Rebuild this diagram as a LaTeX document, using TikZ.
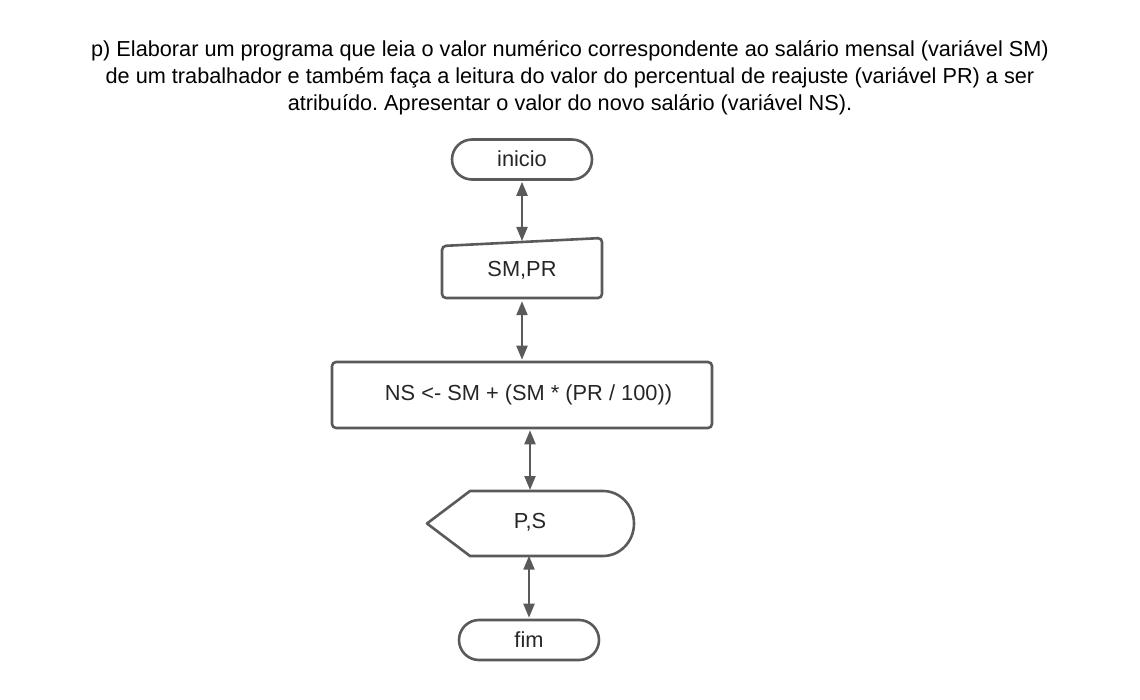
\documentclass[tikz,border=0pt]{standalone}
\usepackage{fontspec}
\setmainfont{Liberation Sans}
\usetikzlibrary{arrows.meta,shapes.misc}
\definecolor{ln}{HTML}{5A5A5A}
\definecolor{tx}{HTML}{262626}
\tikzset{
  nfont/.style={font=\fontsize{21.8}{26}\selectfont},
  shp/.style={draw=ln, line width=2.6pt, text=tx, nfont},
  term/.style={shp, rounded rectangle, minimum height=40pt, inner sep=0pt},
  conn/.style={draw=ln, line width=2.2pt, {Triangle[length=14pt,width=11pt]}-{Triangle[length=14pt,width=11pt]}, shorten <=1pt, shorten >=1pt},
}
\frenchspacing
\begin{document}
\begin{tikzpicture}[x=1pt,y=-1pt]
\useasboundingbox (0,0) rectangle (1140,700);
\node[text=black, align=center, font=\fontsize{21.7}{27}\selectfont] (title) at (570,78)
 {p) Elaborar um programa que leia o valor numérico correspondente ao salário mensal (variável SM)\\
  de um trabalhador e também faça a leitura do valor do percentual de reajuste (variável PR) a ser\\
  atribuído. Apresentar o valor do novo salário (variável NS).};
% inicio
\node[term, minimum width=140pt] (inicio) at (522,159.5) {\raisebox{1.5pt}{inicio}};
% SM,PR manual input
\node[text=tx, nfont, minimum width=160pt, minimum height=60pt, inner sep=0pt] (smpr) at (522,270) {SM,PR};
\draw[ln, line width=2.6pt, rounded corners=4pt] (442,246) -- (602,238) -- (602,298) -- (442,298) -- cycle;
\coordinate (smprtop) at (522,242);
% NS process
\node[shp, rectangle, rounded corners=4pt, minimum width=380pt, minimum height=66pt, inner sep=0pt] (ns) at (522,395) {\hspace*{13pt}NS <- SM + (SM * (PR / 100))};
% P,S display
\node[text=tx, nfont, minimum width=207pt, minimum height=65pt, inner sep=0pt] (ps) at (530,522) {P,S};
\draw[ln, line width=2.6pt, line join=round] (427,523.5) -- (470,491) -- (603,491) arc[start angle=90, end angle=-90, x radius=31, y radius=-32.5] -- (470,556) -- cycle;
% fim
\node[term, minimum width=140pt] (fim) at (529,640) {\raisebox{1.5pt}{fim}};
% connectors
\draw[conn] (inicio.south) -- (smprtop);
\draw[conn] (smpr.south) -- (smpr.south |- ns.north);
\draw[conn] (ns.south -| ps.north) -- (ps.north |- 0,491);
\draw[conn] (ps.south -| fim.north) -- (fim.north);
\end{tikzpicture}
\end{document}
